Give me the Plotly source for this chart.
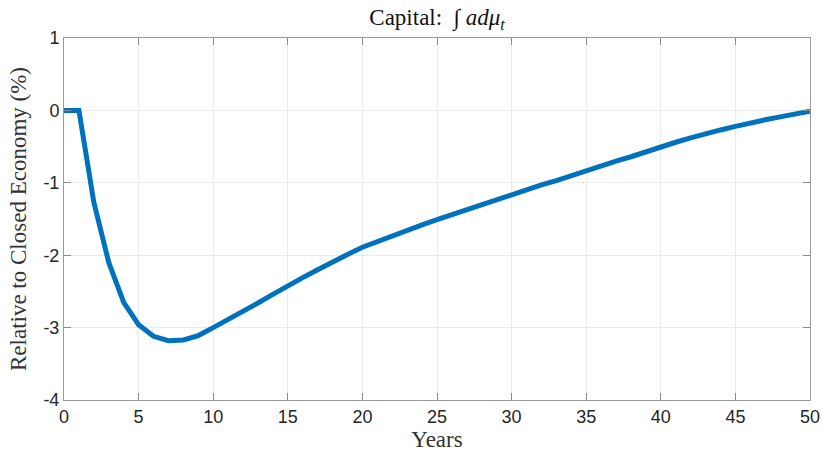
import plotly.graph_objects as go

# Capital path relative to the closed economy, annual observations
years = list(range(0, 51))
capital_pct = [
    0.00, 0.00, -1.27, -2.10, -2.65, -2.96, -3.12, -3.18, -3.17, -3.11,
    -3.00, -2.89, -2.78, -2.66, -2.54, -2.42, -2.31, -2.20, -2.09, -1.99,
    -1.89, -1.81, -1.73, -1.65, -1.58, -1.51, -1.44, -1.37, -1.30, -1.23,
    -1.16, -1.09, -1.03, -0.97, -0.90, -0.84, -0.77, -0.70, -0.64, -0.57,
    -0.50, -0.44, -0.38, -0.32, -0.27, -0.22, -0.17, -0.13, -0.09, -0.05,
    -0.01,
]
x_ticks = [0, 5, 10, 15, 20, 25, 30, 35, 40, 45, 50]
y_ticks = [1, 0, -1, -2, -3, -4]

serif = "Liberation Serif, DejaVu Serif, serif"
sans = "Liberation Sans, Arial, sans-serif"

fig = go.Figure()
fig.add_trace(go.Scatter(
    x=years, y=capital_pct, mode="lines",
    line=dict(color="#0072BD", width=5),
    showlegend=False, hoverinfo="skip",
))

axis_common = dict(
    showline=True, linecolor="#9a9a9a", linewidth=1, mirror="ticks",
    ticks="inside", ticklen=7, tickwidth=1, tickcolor="#8a8a8a",
    showgrid=True, gridcolor="#ebebeb", gridwidth=1, zeroline=False,
    tickfont=dict(family=sans, size=18, color="#262626"),
    automargin=False,
)

fig.update_xaxes(
    range=[0, 50], tickvals=x_ticks, ticktext=[str(v) for v in x_ticks],
    title=dict(text="Years", font=dict(family=serif, size=23, color="#333333"),
               standoff=2),
    **axis_common,
)
fig.update_yaxes(
    range=[-4, 1], tickvals=y_ticks, ticktext=[str(v) for v in y_ticks],
    title=dict(text="Relative to Closed Economy (%)",
               font=dict(family=serif, size=23, color="#333333"), standoff=10),
    **axis_common,
)

fig.update_layout(
    width=823, height=455,
    margin=dict(l=64, r=13, t=38, b=55),
    paper_bgcolor="white", plot_bgcolor="white",
    title=dict(text="Capital:  ∫ <i>adμ<sub>t</sub></i>",
               font=dict(family=serif, size=23, color="#111111"),
               x=0.5, xanchor="center", xref="paper", y=0.962, yanchor="middle"),
)

fig.write_html("out.html")
